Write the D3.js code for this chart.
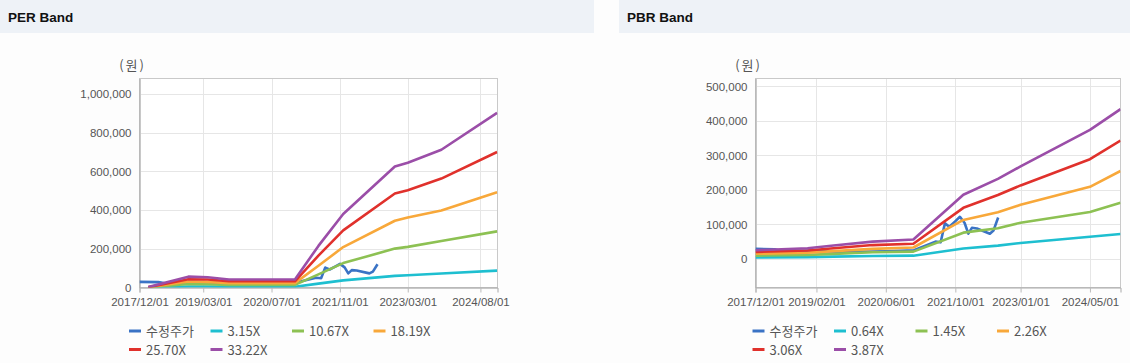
<!DOCTYPE html>
<html>
<head>
<meta charset="utf-8">
<script src="https://cdn.jsdelivr.net/npm/d3@7"></script>
<style>
  body { margin: 0; background: #fdfdfd; }
  text { font-family: "Liberation Sans", Arial, sans-serif; }
  .kr { font-family: "Noto Sans CJK KR", "Liberation Sans", sans-serif; }
</style>
</head>
<body>
<svg id="chart" width="1130" height="363"></svg>
<script>
// 수정주가 (adjusted price) - same for both charts
var priceDates = ["2017-12-01","2018-04-15","2018-06-01","2019-01-01","2019-08-01","2020-06-01","2020-12-15",
  "2021-02-15","2021-05-15","2021-06-20","2021-07-20","2021-08-20","2021-09-28","2021-11-02","2021-12-05",
  "2021-12-31","2022-01-25","2022-03-01","2022-05-31","2022-06-25","2022-07-28"];
var priceValues = [29000, 28000, 22000, 24000, 20000, 22000, 25000,
  35000, 50000, 48000, 103000, 93000, 108000, 122000, 104000,
  73000, 90000, 88000, 73000, 82000, 120000];

// PER band
var perDates = ["2018-02-01","2018-11-15","2019-04-01","2019-09-01","2020-12-15","2021-06-01",
  "2021-11-25","2022-11-29","2023-03-01","2023-10-27","2024-11-28"];
var per315  = [200, 5300, 5000, 3900, 3900, 20000, 37000, 60000, 63000, 72000, 87000];
var per1067 = [600, 18000, 17000, 13300, 13300, 68000, 126000, 201000, 210000, 240000, 290000];
var per1819 = [1000, 31000, 29000, 22500, 22500, 112000, 209000, 345000, 362000, 398000, 492000];
var per2570 = [1500, 43000, 41000, 32000, 32000, 165000, 295000, 486000, 503000, 563000, 700000];
var per3322 = [2000, 56000, 53000, 41000, 41000, 215000, 380000, 625000, 645000, 712000, 902000];
var perLabels = ["수정주가", "3.15X", "10.67X", "18.19X", "25.70X", "33.22X"];
var perTicksX = ["2017/12/01","2019/03/01","2020/07/01","2021/11/01","2023/03/01","2024/08/01"];
var perTicksY = [0, 200000, 400000, 600000, 800000, 1000000];

// PBR band
var pbrDates = ["2017-12-01","2018-12-01","2019-06-01","2020-03-01","2020-12-11","2021-11-26",
  "2022-07-26","2023-01-01","2024-05-01","2024-12-01"];
var pbr064 = [4200, 5100, 6400, 8300, 9300, 30000, 38500, 46000, 64000, 72000];
var pbr145 = [9400, 11600, 14500, 19000, 21000, 76000, 89000, 105000, 136000, 163000];
var pbr226 = [14700, 18000, 22600, 29000, 33000, 113000, 135000, 157000, 209000, 255000];
var pbr306 = [20000, 24500, 31000, 40000, 44000, 148000, 185000, 213000, 289000, 343000];
var pbr387 = [25000, 31000, 39000, 50000, 56000, 186000, 232000, 268000, 374000, 434000];
var pbrLabels = ["수정주가", "0.64X", "1.45X", "2.26X", "3.06X", "3.87X"];
var pbrTicksX = ["2017/12/01","2019/02/01","2020/06/01","2021/10/01","2023/01/01","2024/05/01"];
var pbrTicksY = [0, 100000, 200000, 300000, 400000, 500000];

var colors = ["#3a73c5", "#1ebfd0", "#8dc153", "#f8a83a", "#e0312c", "#9b4ea8"];

var svg = d3.select("#chart");
var parse = d3.timeParse("%Y-%m-%d");
var parseTick = d3.timeParse("%Y/%m/%d");

function zip(dates, values) {
    return dates.map(function(d, i) { return {date: parse(d), value: values[i]}; });
}

function drawPanel(opt) {
    var g = svg.append("g");

    // header band
    g.append("rect")
        .attr("x", opt.headX).attr("y", 0)
        .attr("width", opt.headW).attr("height", 33)
        .attr("fill", "#eef2f7");
    g.append("text")
        .attr("x", opt.headX + 8).attr("y", 22)
        .attr("font-size", "13.5px").attr("font-weight", "bold")
        .attr("fill", "#111")
        .text(opt.title);

    var x = d3.scaleTime()
        .domain([parse("2017-12-01"), parse("2024-12-01")])
        .range([opt.left, opt.right]);
    var y = d3.scaleLinear()
        .domain(opt.yDomain)
        .range([opt.bottom, opt.top]);

    // plot background
    g.append("rect")
        .attr("x", opt.left).attr("y", opt.top)
        .attr("width", opt.right - opt.left).attr("height", opt.bottom - opt.top)
        .attr("fill", "#fff");

    var tx = opt.ticksX.map(parseTick);

    // grid
    g.append("g").selectAll("line").data(tx).enter().append("line")
        .attr("x1", function(d) { return Math.round(x(d)) + 0.5; })
        .attr("x2", function(d) { return Math.round(x(d)) + 0.5; })
        .attr("y1", opt.top).attr("y2", opt.bottom)
        .attr("stroke", "#e6e6e6");
    g.append("g").selectAll("line").data(opt.ticksY).enter().append("line")
        .attr("x1", opt.left).attr("x2", opt.right)
        .attr("y1", function(d) { return Math.round(y(d)) + 0.5; })
        .attr("y2", function(d) { return Math.round(y(d)) + 0.5; })
        .attr("stroke", "#e6e6e6");

    // frame
    g.append("rect")
        .attr("x", opt.left).attr("y", opt.top)
        .attr("width", opt.right - opt.left).attr("height", opt.bottom - opt.top)
        .attr("fill", "none").attr("stroke", "#c9c9c9");

    // y axis
    var yAxis = g.append("g")
        .attr("transform", "translate(" + opt.left + ",0)")
        .call(d3.axisLeft(y).tickValues(opt.ticksY).tickSize(0).tickPadding(8)
            .tickFormat(d3.format(",")));
    yAxis.select(".domain").attr("stroke", "#a9a9a9");
    yAxis.selectAll("text").attr("font-size", "11.5px").attr("fill", "#555")
        .attr("font-family", "Liberation Sans, Arial, sans-serif");

    // x axis
    var xAxis = g.append("g")
        .attr("transform", "translate(0," + opt.bottom + ")")
        .call(d3.axisBottom(x).tickValues(tx).tickSize(5).tickPadding(5)
            .tickFormat(d3.timeFormat("%Y/%m/%d")));
    xAxis.select(".domain").attr("stroke", "#a9a9a9");
    xAxis.selectAll("line").attr("stroke", "#bbb");
    xAxis.selectAll("text").attr("font-size", "11.5px").attr("fill", "#555")
        .attr("font-family", "Liberation Sans, Arial, sans-serif");

    // unit
    g.append("text").attr("class", "kr")
        .attr("x", opt.left - 7).attr("y", 70)
        .attr("text-anchor", "middle")
        .attr("font-size", "13px").attr("fill", "#555")
        .attr("letter-spacing", "2px")
        .text("(원)");

    var line = d3.line()
        .x(function(d) { return x(d.date); })
        .y(function(d) { return y(d.value); });

    var clipId = "clip" + opt.title.replace(" ", "");
    g.append("clipPath").attr("id", clipId).append("rect")
        .attr("x", opt.left).attr("y", opt.top)
        .attr("width", opt.right - opt.left).attr("height", opt.bottom - opt.top);

    g.append("g").attr("clip-path", "url(#" + clipId + ")")
        .selectAll("path").data(opt.series).enter().append("path")
        .attr("d", function(s) { return line(s); })
        .attr("fill", "none")
        .attr("stroke", function(s, i) { return colors[i]; })
        .attr("stroke-width", 2.6)
        .attr("stroke-linejoin", "round");

    // legend
    var leg = g.append("g").selectAll("g").data(opt.labels).enter().append("g")
        .attr("transform", function(d, i) {
            return "translate(" + (opt.legendX + (i % 4) * 81.5) + "," + (331 + Math.floor(i / 4) * 18.5) + ")";
        });
    leg.append("line")
        .attr("x1", 0).attr("x2", 12)
        .attr("stroke", function(d, i) { return colors[i]; })
        .attr("stroke-width", 3);
    leg.append("text").attr("class", "kr")
        .attr("x", 17).attr("y", 5)
        .attr("font-size", "13px").attr("fill", "#555")
        .text(function(d) { return d; });
}

drawPanel({
    title: "PER Band", headX: 0, headW: 594,
    left: 139.5, right: 497.5, top: 78.5, bottom: 287.5,
    yDomain: [0, 1080000],
    ticksX: perTicksX, ticksY: perTicksY,
    labels: perLabels, legendX: 129,
    series: [zip(priceDates, priceValues), zip(perDates, per315), zip(perDates, per1067),
             zip(perDates, per1819), zip(perDates, per2570), zip(perDates, per3322)]
});

drawPanel({
    title: "PBR Band", headX: 619, headW: 511,
    left: 755.5, right: 1120.5, top: 78.5, bottom: 287.5,
    yDomain: [-83000, 523000],
    ticksX: pbrTicksX, ticksY: pbrTicksY,
    labels: pbrLabels, legendX: 752.5,
    series: [zip(priceDates, priceValues), zip(pbrDates, pbr064), zip(pbrDates, pbr145),
             zip(pbrDates, pbr226), zip(pbrDates, pbr306), zip(pbrDates, pbr387)]
});
</script>
</body>
</html>
